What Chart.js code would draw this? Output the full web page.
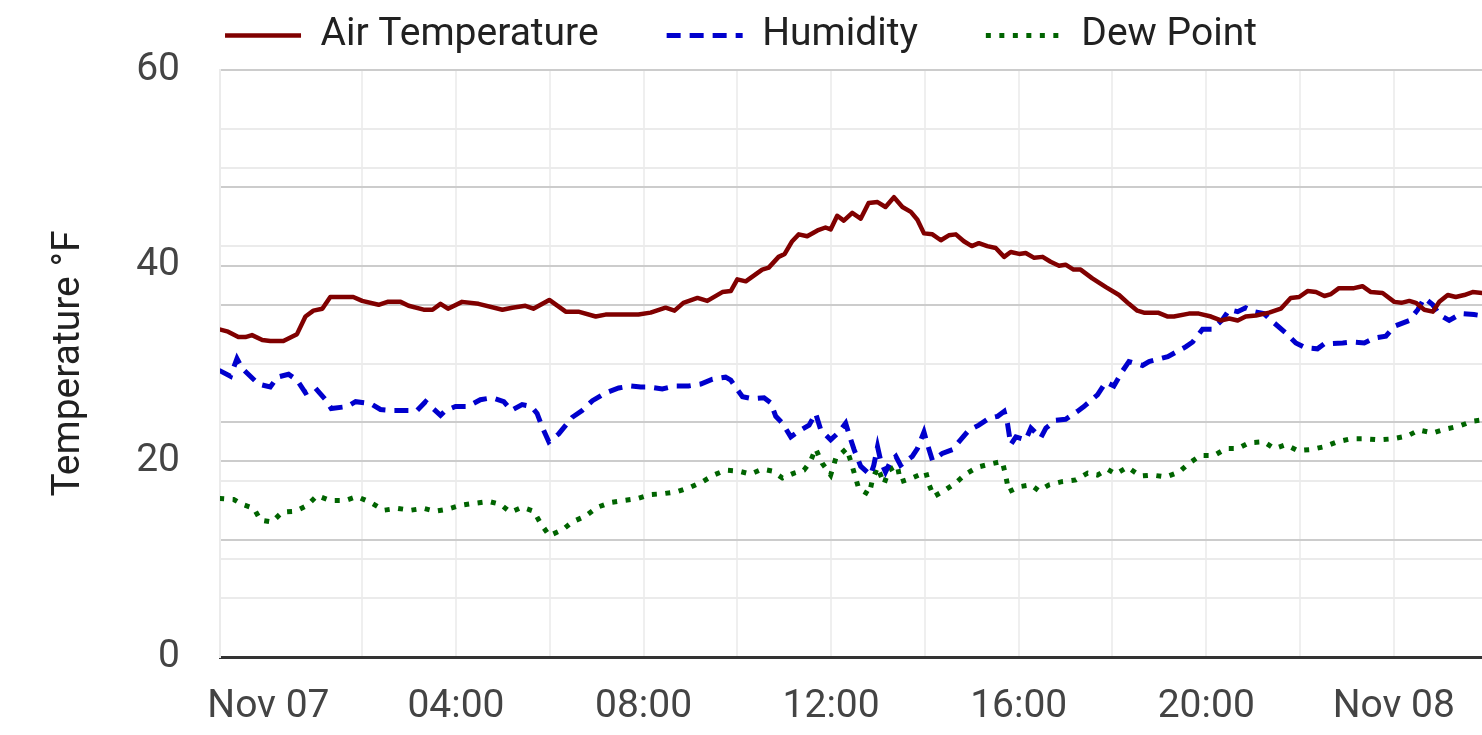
<!DOCTYPE html>
<html>
<head>
<meta charset="utf-8">
<script src="https://cdn.jsdelivr.net/npm/chart.js@4.4.1/dist/chart.umd.min.js"></script>
<style>
html,body{margin:0;padding:0;background:#ffffff;}
#wrap{width:1482px;height:735px;position:relative;}
</style>
</head>
<body>
<div id="wrap"><canvas id="c"></canvas></div>
<script>
// ---- Data (hours since Nov 07 00:00) ----
const tempHours = [-1.05,-0.86,-0.64,-0.49,-0.35,-0.13,0.04,0.32,0.61,0.79,
  0.96,1.15,1.32,1.81,2.0,2.35,2.54,2.82,2.99,3.31,
  3.5,3.67,3.83,4.13,4.48,4.99,5.2,5.48,5.65,5.99,
  6.34,6.61,6.98,7.19,7.89,8.15,8.47,8.66,8.85,9.15,
  9.36,9.68,9.86,10.0,10.18,10.53,10.67,10.88,11.01,11.17,
  11.31,11.49,11.71,11.88,11.99,12.13,12.27,12.45,12.63,12.8,
  12.99,13.16,13.34,13.52,13.7,13.84,13.98,14.16,14.34,14.51,
  14.66,14.83,15.0,15.15,15.33,15.51,15.69,15.83,16.01,16.15,
  16.33,16.51,16.68,16.86,17.0,17.17,17.32,17.57,17.86,18.14,
  18.35,18.53,18.67,18.97,19.18,19.31,19.63,19.84,20.1,20.31,
  20.49,20.67,20.84,21.06,21.34,21.59,21.8,21.98,22.16,22.34,
  22.52,22.66,22.83,23.15,23.33,23.51,23.76,24.01,24.16,24.33,
  24.47,24.65,24.83,24.97,25.15,25.32,25.5,25.68,25.89,26.0];
const tempValues = [33.5,33.25,32.7,32.7,32.9,32.4,32.3,32.3,33.0,34.8,
  35.4,35.6,36.8,36.8,36.4,36.0,36.3,36.3,35.9,35.5,
  35.5,36.1,35.6,36.3,36.1,35.5,35.7,35.9,35.6,36.5,
  35.3,35.3,34.8,35.0,35.0,35.2,35.7,35.4,36.2,36.7,
  36.4,37.3,37.4,38.6,38.4,39.6,39.8,40.9,41.2,42.5,
  43.2,43.0,43.6,43.9,43.7,45.1,44.6,45.4,44.8,46.4,
  46.5,46.0,47.0,46.0,45.5,44.7,43.3,43.2,42.6,43.1,
  43.2,42.5,42.0,42.3,42.0,41.8,40.9,41.4,41.2,41.3,
  40.8,40.9,40.4,40.0,40.1,39.6,39.6,38.7,37.8,37.0,
  36.1,35.4,35.2,35.2,34.8,34.8,35.1,35.1,34.8,34.4,
  34.6,34.4,34.8,34.9,35.2,35.6,36.7,36.8,37.4,37.3,
  36.9,37.1,37.7,37.7,37.9,37.3,37.2,36.3,36.2,36.4,
  36.2,35.5,35.3,36.3,37.0,36.8,37.0,37.3,37.2,37.3];

const humHours = [-1.05,-0.81,-0.67,-0.56,-0.21,0.04,0.19,0.43,0.61,0.79,
  1.0,1.22,1.34,1.68,1.86,2.18,2.39,2.64,2.88,3.17,
  3.35,3.67,3.78,3.99,4.25,4.52,4.77,5.02,5.18,5.41,
  5.61,5.73,5.84,5.98,6.19,6.48,6.69,6.91,7.19,7.47,
  7.72,7.94,8.11,8.4,8.68,8.96,9.22,9.47,9.75,9.86,
  9.96,10.11,10.32,10.57,10.71,10.82,10.96,11.14,11.35,11.53,
  11.67,11.78,11.99,12.17,12.31,12.42,12.49,12.63,12.84,12.91,
  12.99,13.06,13.16,13.27,13.38,13.48,13.73,13.84,13.98,14.05,
  14.16,14.37,14.59,14.76,14.94,15.15,15.37,15.55,15.69,15.76,
  15.83,15.94,16.15,16.26,16.47,16.58,16.79,17.0,17.25,17.39,
  17.68,17.86,18.03,18.21,18.35,18.64,18.78,19.18,19.56,19.71,
  19.92,20.13,20.35,20.49,20.67,20.84,21.02,21.23,21.41,21.7,
  21.91,22.12,22.37,22.51,22.91,23.12,23.37,23.58,23.83,24.01,
  24.33,24.51,24.65,24.83,24.97,25.18,25.43,25.71,26.0];
const humValues = [29.3,28.7,30.5,29.5,27.9,27.6,28.6,28.9,28.3,27.0,
  27.5,26.3,25.4,25.6,26.1,25.9,25.3,25.2,25.2,25.2,
  26.1,24.7,25.2,25.6,25.6,26.3,26.5,26.1,25.2,25.8,
  25.6,24.9,23.5,22.0,22.8,24.5,25.2,26.2,27.0,27.5,
  27.7,27.6,27.6,27.4,27.7,27.7,27.9,28.4,28.6,28.3,
  27.6,26.6,26.4,26.5,26.0,24.6,23.9,22.5,23.2,23.7,
  24.9,23.2,22.2,23.0,23.9,22.2,21.2,19.5,18.6,19.6,
  21.5,20.0,18.9,20.0,20.5,19.6,20.5,21.3,23.0,21.8,
  20.1,20.8,21.2,22.2,23.2,23.7,24.4,24.6,25.1,23.9,
  21.7,22.5,22.2,23.4,22.4,23.4,24.2,24.3,25.1,25.6,
  26.8,28.1,27.7,29.2,30.2,29.8,30.2,30.7,31.7,32.2,
  33.5,33.5,34.5,35.5,35.3,35.7,35.3,35.1,34.3,33.1,
  32.1,31.6,31.5,32.0,32.1,32.2,32.1,32.6,32.8,33.8,
  34.4,35.5,36.7,36.0,35.0,34.4,35.1,35.0,34.8];

const dewHours = [-1.05,-0.74,-0.56,-0.31,-0.17,0.08,0.29,0.58,0.83,1.04,
  1.32,1.64,1.89,2.18,2.46,2.75,3.03,3.31,3.56,3.81,
  4.1,4.38,4.7,4.95,5.16,5.41,5.66,5.8,5.99,6.27,
  6.48,6.76,7.01,7.3,7.58,7.87,8.15,8.43,8.72,8.97,
  9.25,9.5,9.75,10.03,10.28,10.53,10.75,10.96,11.21,11.42,
  11.56,11.67,11.81,11.99,12.1,12.33,12.42,12.59,12.81,12.88,
  12.99,13.13,13.23,13.41,13.48,13.73,14.02,14.09,14.19,14.41,
  14.66,14.87,15.12,15.37,15.65,15.72,15.79,16.01,16.26,16.43,
  16.65,16.9,17.22,17.47,17.68,17.89,18.07,18.32,18.6,18.85,
  19.14,19.42,19.63,19.88,20.17,20.42,20.67,20.91,21.23,21.45,
  21.7,21.95,22.23,22.52,22.8,23.08,23.4,23.69,23.97,24.29,
  24.54,24.83,25.11,25.39,25.68,26.0];
const dewValues = [16.2,16.1,15.6,15.2,14.0,13.8,14.8,14.9,15.5,16.5,
  16.0,16.0,16.4,15.8,15.0,15.2,15.0,15.2,14.9,15.1,
  15.5,15.7,15.9,15.6,14.8,15.3,14.9,13.7,12.4,13.0,
  13.8,14.4,15.3,15.8,16.0,16.2,16.6,16.7,16.9,17.3,
  17.9,18.6,19.1,19.0,18.7,19.2,19.0,18.3,18.8,19.1,
  20.0,21.3,19.8,18.6,20.3,21.3,20.0,17.2,16.6,18.1,
  19.4,17.7,19.1,19.6,17.9,18.3,18.9,17.6,16.4,17.0,
  17.8,18.7,19.4,19.7,20.0,18.6,16.9,17.4,17.6,17.0,
  17.6,17.9,18.1,18.8,18.6,19.2,18.7,19.4,18.5,18.6,
  18.4,18.9,19.8,20.6,20.6,21.3,21.3,21.9,22.0,21.3,
  21.7,21.1,21.2,21.5,22.0,22.3,22.3,22.2,22.3,22.6,
  23.2,22.9,23.3,23.6,24.1,24.3];

// ---- Axis ticks ----
const xTickHours  = [0,2,4,6,8,10,12,14,16,18,20,22,24];
const xTickLabels = ['Nov 07','','04:00','','08:00','','12:00','','16:00','','20:00','','Nov 08'];
const xRange = [-1.032, 25.88];
const yLabelValues = [0,20,40,60];
const yGridMajor = [0,12,20,24,36,40,48,60];
const yGridMinor = [6,10,18,30,42,50,54];

const toXY = (hs, vs) => hs.map((h, i) => ({x: h, y: vs[i]}));

const FONT_SIZE = 39;
Chart.defaults.font.family = 'Roboto';

// Keeps the wide legend item spacing while placing the row near the top edge
const legendShift = {
  id: 'legendShift',
  afterLayout(chart) {
    const lg = chart.legend;
    if (lg) {
      const p = lg.options.labels.padding;
      const bottom = lg.bottom;
      lg.top = 16 - p;
      lg.bottom = bottom;
    }
  }
};

new Chart(document.getElementById('c'), {
  type: 'line',
  data: {
    datasets: [
      {label: 'Air Temperature', data: toXY(tempHours, tempValues), borderColor: '#800000', backgroundColor: '#800000',
       borderWidth: 4.5, pointRadius: 0, tension: 0, fill: false, borderJoinStyle: 'round'},
      {label: 'Humidity', data: toXY(humHours, humValues), borderColor: '#0000cd', backgroundColor: '#0000cd',
       borderWidth: 5, borderDash: [14, 9], pointRadius: 0, tension: 0, fill: false},
      {label: 'Dew Point', data: toXY(dewHours, dewValues), borderColor: '#006400', backgroundColor: '#006400',
       borderWidth: 5, borderDash: [5, 8.5], pointRadius: 0, tension: 0, fill: false}
    ]
  },
  options: {
    responsive: true,
    maintainAspectRatio: false,
    animation: false,
    layout: {padding: 0},
    plugins: {
      legend: {
        position: 'top',
        align: 'center',
        maxHeight: 70,
        labels: {
          usePointStyle: true,
          pointStyle: 'line',
          pointStyleWidth: 76,
          padding: 68,
          color: '#212121',
          font: {family: 'Roboto', size: FONT_SIZE},
          generateLabels: chart => {
            const items = Chart.defaults.plugins.legend.labels.generateLabels(chart);
            items.forEach(it => {
              const ds = chart.data.datasets[it.datasetIndex];
              it.lineDash = ds.borderDash || [];
              it.lineWidth = ds.borderWidth;
              it.strokeStyle = ds.borderColor;
              it.fillStyle = ds.borderColor;
              it.lineCap = 'butt';
            });
            return items;
          }
        }
      },
      tooltip: {enabled: false}
    },
    scales: {
      x: {
        type: 'linear',
        min: xRange[0],
        max: xRange[1],
        afterBuildTicks: s => { s.ticks = xTickHours.map(v => ({value: v})); },
        afterFit: s => { s.height = 78; },
        ticks: {
          autoSkip: false, maxRotation: 0, minRotation: 0, padding: 27,
          color: '#444444', font: {family: 'Roboto', size: FONT_SIZE},
          callback: (v, i) => xTickLabels[i] ?? ''
        },
        grid: {
          drawTicks: false, lineWidth: 2,
          color: c => (c.tick && c.tick.value === 0) ? 'rgba(0,0,0,0)' : '#efefef'
        },
        border: {color: '#333333', width: 3}
      },
      y: {
        position: 'left',
        min: 0,
        max: 60,
        afterBuildTicks: s => {
          s.ticks = yGridMajor.concat(yGridMinor).sort((a, b) => a - b).map(v => ({value: v}));
        },
        afterFit: s => { s.width = 220; },
        ticks: {
          autoSkip: false, padding: 40,
          color: '#444444', font: {family: 'Roboto', size: FONT_SIZE},
          callback: v => yLabelValues.includes(v) ? String(v) : ''
        },
        grid: {
          drawTicks: false, lineWidth: 2,
          color: c => yGridMajor.includes(c.tick.value) ? '#cccccc' : '#ebebeb'
        },
        border: {color: '#ebebeb', width: 2},
        title: {
          display: true, text: 'Temperature °F', color: '#212121',
          font: {family: 'Roboto', size: FONT_SIZE},
          padding: {top: 46, bottom: 0}
        }
      }
    }
  },
  plugins: [legendShift]
});
</script>
</body>
</html>
